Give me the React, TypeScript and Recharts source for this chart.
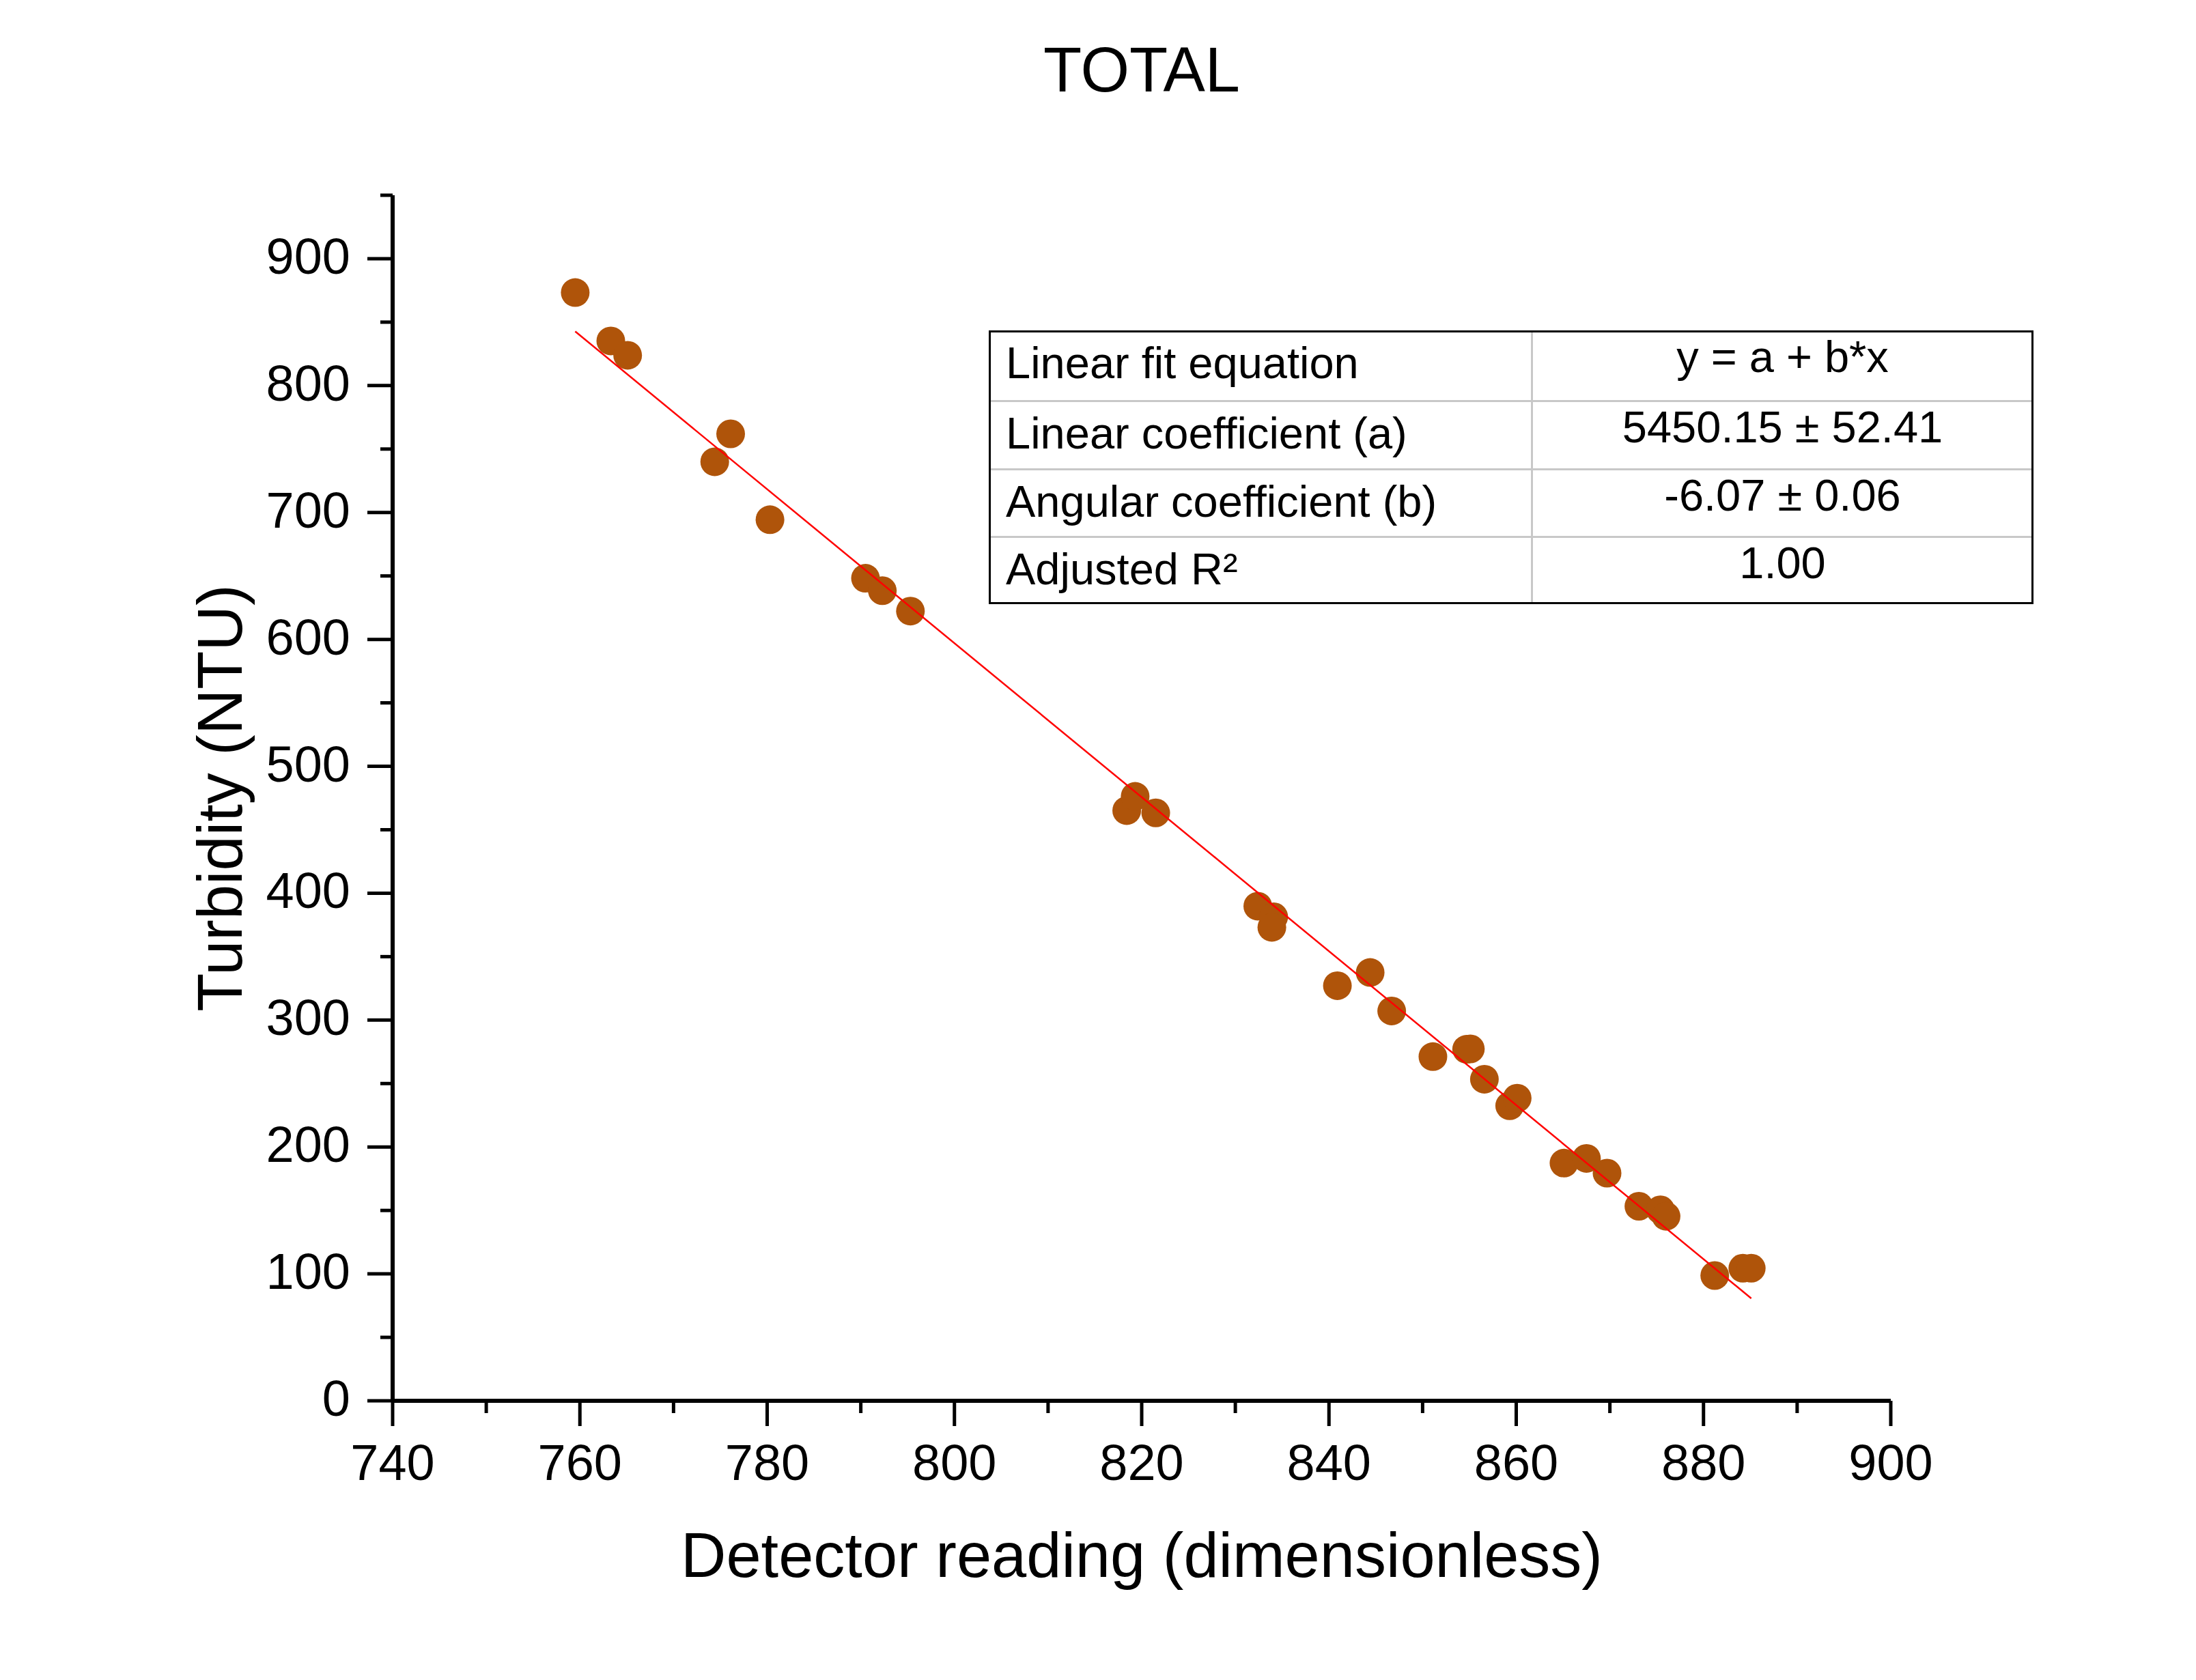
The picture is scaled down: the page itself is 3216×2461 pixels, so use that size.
import { ScatterChart, Scatter, XAxis, YAxis } from "recharts"

const FONT = '"Liberation Sans", Arial, Helvetica, sans-serif'
const POINT = "#AF540A"

// detector reading (x) and turbidity in NTU (y)
const detector = [
  759.5, 763.3, 765.1, 774.4, 776.1, 780.3, 790.5, 792.3, 795.3,
  818.4, 819.3, 821.5, 832.4, 834.1, 833.9, 840.9, 844.4, 846.7,
  851.1, 854.7, 855.1, 856.6, 859.3, 860.1, 865.1, 867.5, 869.7,
  873.1, 875.4, 876.0, 881.2, 884.2, 885.1,
]
const turbidity = [
  873.3, 835.2, 823.9, 740.0, 762.0, 694.3, 648.2, 638.4, 622.3,
  465.1, 476.3, 463.3, 389.8, 381.4, 373.1, 327.1, 337.5, 307.2,
  271.2, 277.0, 277.3, 253.4, 232.5, 238.5, 187.3, 191.0, 179.4,
  153.3, 150.5, 145.4, 98.7, 104.5, 104.5,
]

// ends of the red fit line
const fitX = [759.5, 885.1]
const fitY = [842.7, 80.7]

const xTicks = [740, 750, 760, 770, 780, 790, 800, 810, 820, 830, 840, 850, 860, 870, 880, 890, 900]
const yTicks = [0, 50, 100, 150, 200, 250, 300, 350, 400, 450, 500, 550, 600, 650, 700, 750, 800, 850, 900, 950]

const fitLabels = ["Linear fit equation", "Linear coefficient (a)", "Angular coefficient (b)", "Adjusted R²"]
const fitValues = ["y = a + b*x", "5450.15 ± 52.41", "-6.07 ± 0.06", "1.00"]

const points = detector.map((x, i) => ({ x, y: turbidity[i] }))
const fitLine = fitX.map((x, i) => ({ x, y: fitY[i] }))

function YTick({ x, y, payload }: any) {
  const v = payload.value
  const major = v % 100 === 0
  const edge = x + 62
  return (
    <g>
      <line x1={edge - (major ? 37 : 18)} y1={y} x2={edge} y2={y} stroke="#000" strokeWidth={5} />
      {major && v <= 900 && (
        <text x={x} y={y + 22} textAnchor="end" fontSize={74} fill="#000">
          {v}
        </text>
      )}
    </g>
  )
}

function XTick({ x, y, payload }: any) {
  const v = payload.value
  const major = (v - 740) % 20 === 0
  const edge = y - 57
  return (
    <g>
      <line x1={x} y1={edge} x2={x} y2={edge + (major ? 37 : 18)} stroke="#000" strokeWidth={5} />
      {major && (
        <text x={x} y={edge + 116} textAnchor="middle" fontSize={74} fill="#000">
          {v}
        </text>
      )}
    </g>
  )
}

const dot = (p: any) => <circle cx={p.cx} cy={p.cy} r={21} fill={POINT} />
const none = () => <g />

// table geometry
const T_LEFT = 1448
const T_RIGHT = 2978
const T_TOP = 484
const T_MID = 2243
const rowHeights = [103, 100, 99, 99]

function FitTable() {
  const tops: number[] = []
  let acc = T_TOP
  rowHeights.forEach((h) => {
    tops.push(acc)
    acc += h
  })
  const bottom = acc
  return (
    <>
      {tops.slice(1).map((t) => (
        <div key={"h" + t} style={{ position: "absolute", left: T_LEFT, top: t - 1, width: T_RIGHT - T_LEFT, height: 3, background: "#c8c8c8" }} />
      ))}
      <div style={{ position: "absolute", left: T_MID - 1, top: T_TOP, width: 3, height: bottom - T_TOP, background: "#c8c8c8" }} />
      <div
        style={{
          position: "absolute",
          left: T_LEFT,
          top: T_TOP,
          width: T_RIGHT - T_LEFT,
          height: bottom - T_TOP,
          border: "3px solid #000",
          boxSizing: "border-box",
        }}
      />
      {fitLabels.map((label, i) => (
        <div
          key={label}
          style={{ position: "absolute", left: T_LEFT + 25, top: tops[i] + 70 - 55, fontSize: 65, lineHeight: "65px", whiteSpace: "nowrap" }}
        >
          {label}
        </div>
      ))}
      {fitValues.map((val, i) => (
        <div
          key={val}
          style={{
            position: "absolute",
            left: T_MID,
            width: T_RIGHT - T_MID,
            top: tops[i] + 61 - 55,
            fontSize: 65,
            lineHeight: "65px",
            textAlign: "center",
            whiteSpace: "nowrap",
          }}
        >
          {val}
        </div>
      ))}
    </>
  )
}

export default function App() {
  return (
    <div style={{ position: "absolute", left: 0, top: 0, width: 3216, height: 2461, background: "#fff", fontFamily: FONT, color: "#000" }}>
      <ScatterChart width={3216} height={2461} margin={{ top: 286, right: 447, bottom: 139, left: 275 }}>
        <XAxis
          type="number"
          dataKey="x"
          domain={[740, 900]}
          ticks={xTicks}
          interval={0}
          height={270}
          tickSize={37}
          tickMargin={20}
          tickLine={false}
          tick={<XTick />}
          axisLine={{ stroke: "#000", strokeWidth: 6 }}
          label={{ value: "Detector reading (dimensionless)", position: "insideBottom", offset: 12, fontSize: 92, fill: "#000" }}
        />
        <YAxis
          type="number"
          dataKey="y"
          domain={[0, 950]}
          ticks={yTicks}
          interval={0}
          width={300}
          tickSize={37}
          tickMargin={25}
          tickLine={false}
          tick={<YTick />}
          axisLine={{ stroke: "#000", strokeWidth: 6 }}
          label={{
            value: "Turbidity (NTU)",
            angle: -90,
            position: "insideLeft",
            offset: 46,
            fontSize: 92,
            fill: "#000",
            style: { textAnchor: "middle" },
          }}
        />
        <Scatter data={points} shape={dot} isAnimationActive={false} />
        <Scatter data={fitLine} shape={none} line={{ stroke: "#ff0000", strokeWidth: 2.5 }} isAnimationActive={false} />
      </ScatterChart>
      <div style={{ position: "absolute", left: 1172, top: 56, width: 1000, fontSize: 92, lineHeight: "92px", textAlign: "center" }}>
        TOTAL
      </div>
      <FitTable />
    </div>
  )
}
